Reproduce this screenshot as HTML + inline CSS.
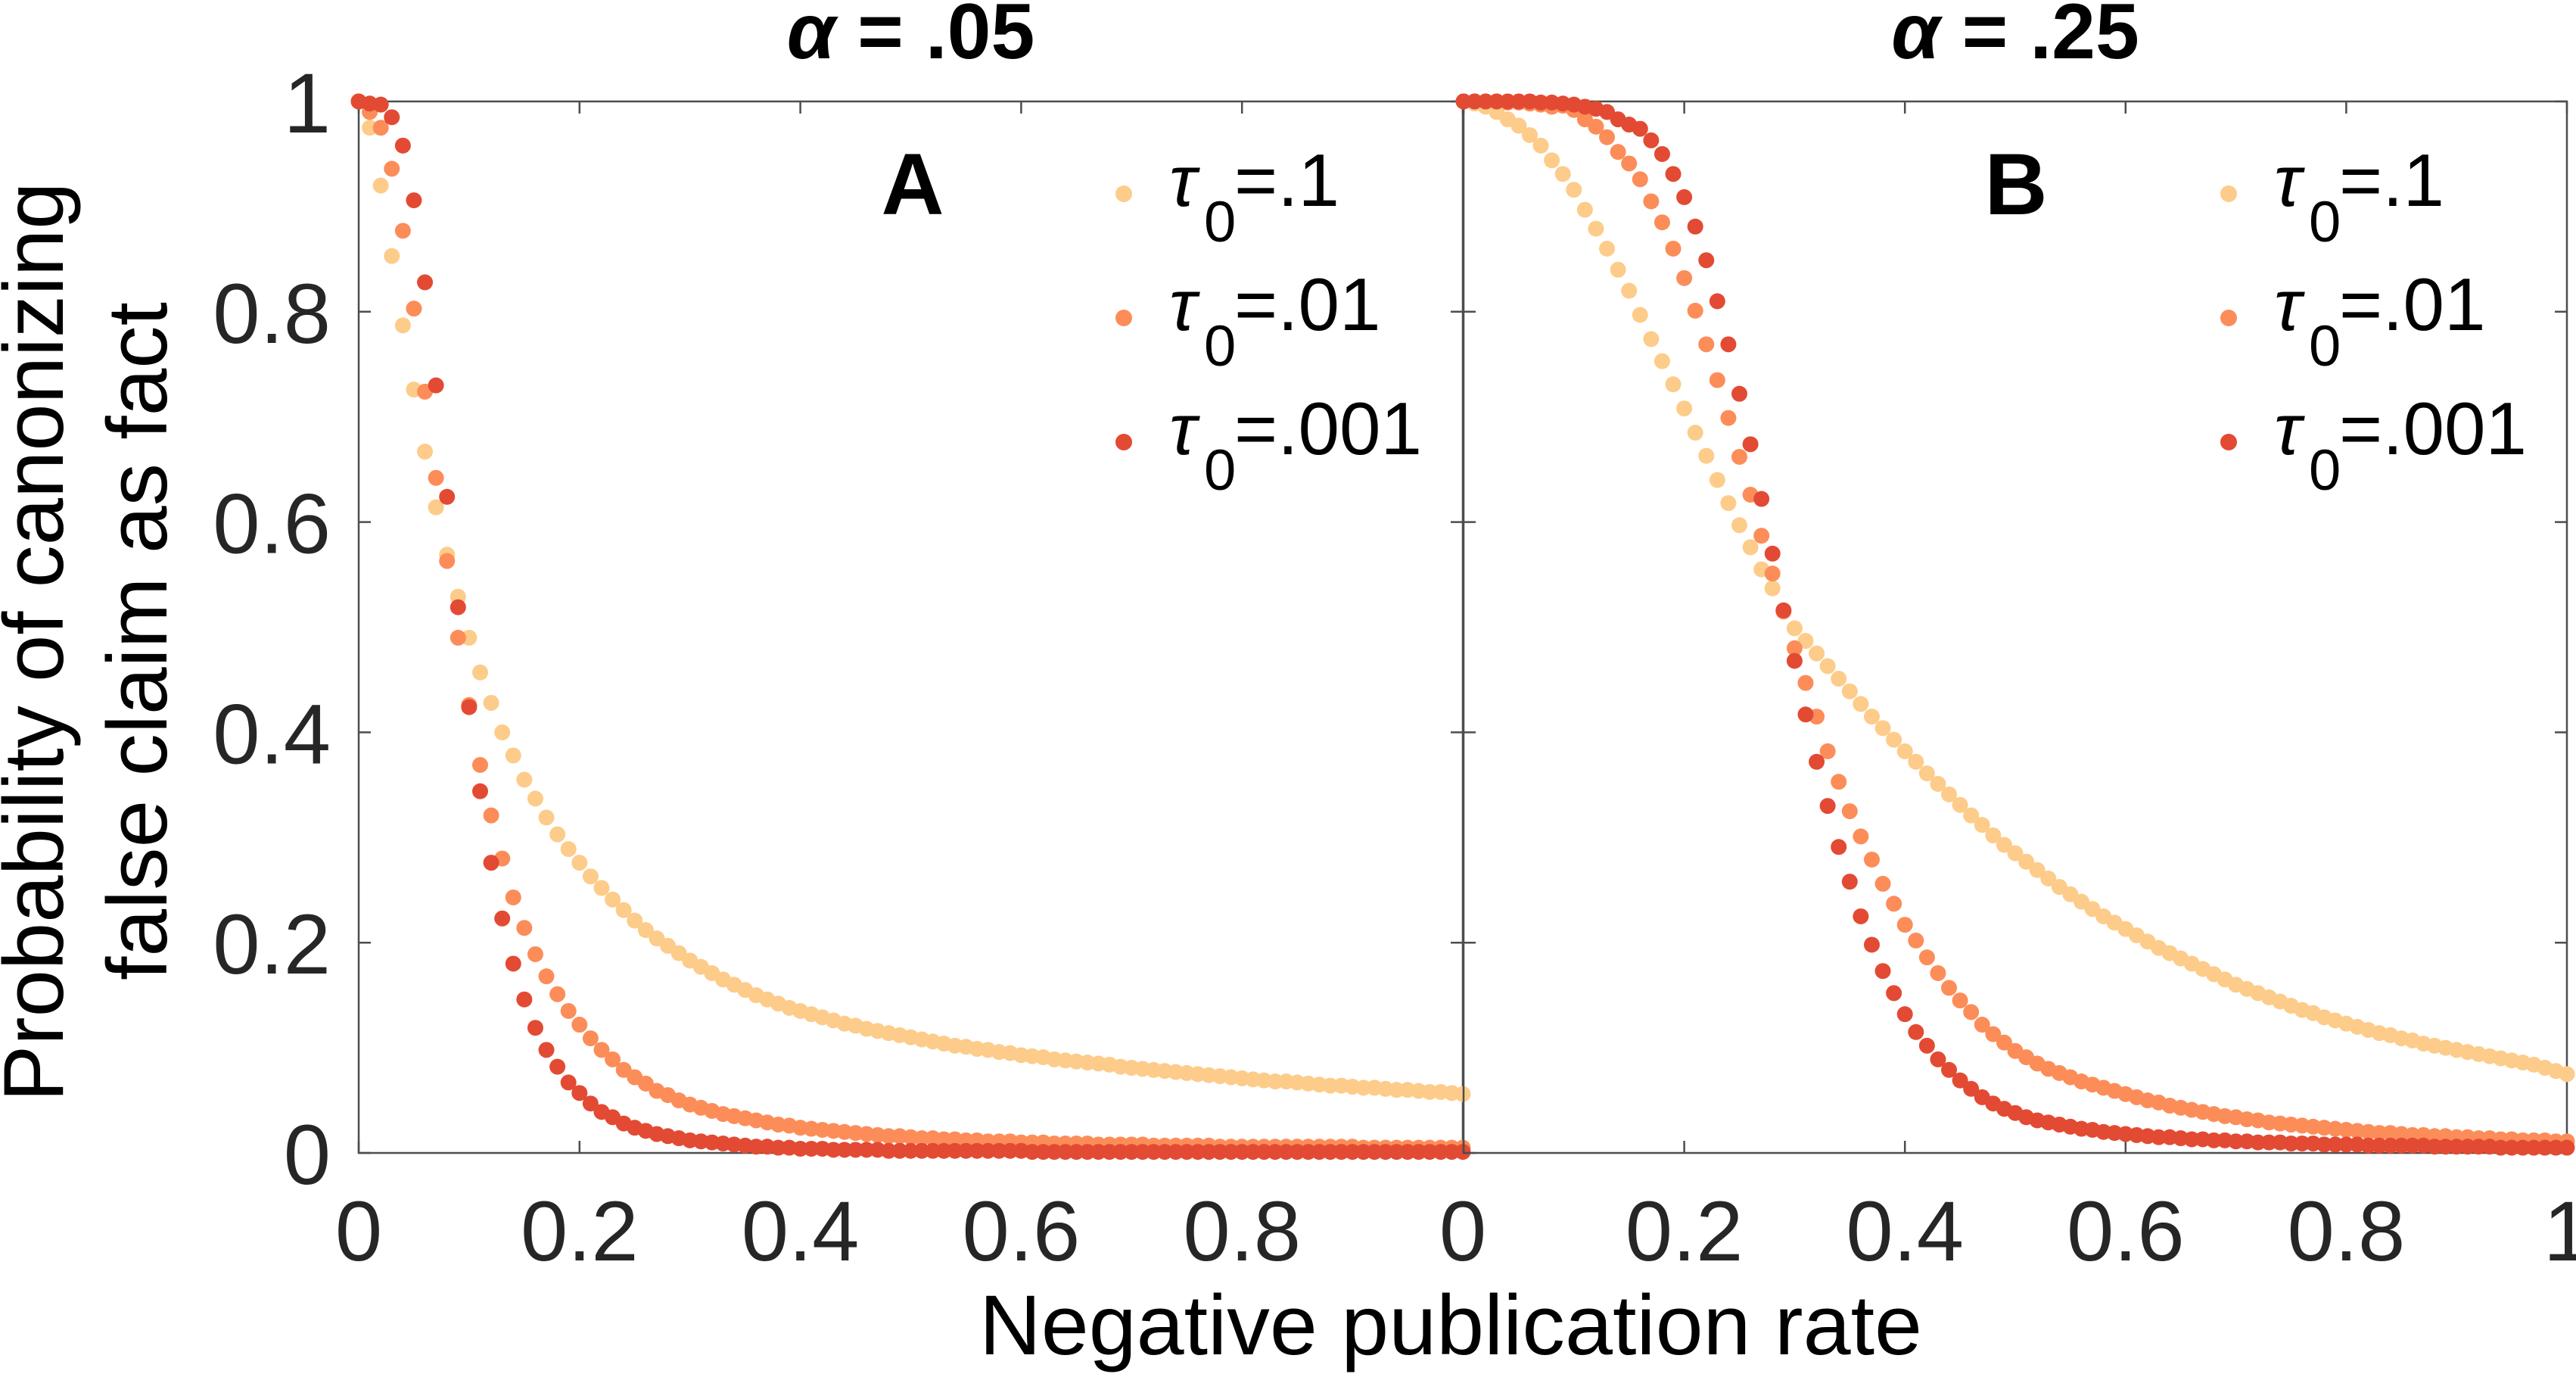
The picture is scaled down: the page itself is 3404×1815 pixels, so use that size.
<!DOCTYPE html>
<html><head><meta charset="utf-8"><style>
html,body{margin:0;padding:0;background:#fff;}
svg{display:block;}
text{font-family:"Liberation Sans",Arial,sans-serif;}
</style></head><body>
<svg id="chart" width="3404" height="1815" viewBox="0 0 3404 1815" xmlns="http://www.w3.org/2000/svg">
<rect width="3404" height="1815" fill="#fff"/>
<g id="layer"></g>
</svg>
<script>
const xTicks = [0, 0.2, 0.4, 0.6, 0.8, 1];
const xTickLabelsA = ["0", "0.2", "0.4", "0.6", "0.8", "0"];
const xTickLabelsB = ["", "0.2", "0.4", "0.6", "0.8", "1"];
const yTicks = [0, 0.2, 0.4, 0.6, 0.8, 1];
const yTickLabels = ["0", "0.2", "0.4", "0.6", "0.8", "1"];
const seriesNames = ["τ0=.1", "τ0=.01", "τ0=.001"];
const seriesLabels = [".1", ".01", ".001"];
const seriesColors = ["#fdcc8a", "#fc8d59", "#e34a33"];
const panelTitles = [".05", ".25"];
const panelLetters = ["A", "B"];

const aYellow = [1.0,0.975,0.920,0.853,0.787,0.726,0.667,0.614,0.569,0.529,0.490,0.457,0.428,0.400,0.378,0.355,0.337,0.319,0.303,0.289,0.276,0.263,0.252,0.241,0.231,0.221,0.212,0.204,0.197,0.190,0.183,0.177,0.171,0.165,0.160,0.155,0.150,0.146,0.142,0.138,0.135,0.132,0.129,0.126,0.123,0.121,0.118,0.116,0.114,0.112,0.110,0.108,0.106,0.104,0.102,0.101,0.099,0.098,0.096,0.095,0.093,0.092,0.091,0.089,0.088,0.087,0.086,0.085,0.084,0.082,0.081,0.080,0.079,0.078,0.077,0.076,0.075,0.074,0.073,0.072,0.071,0.070,0.069,0.068,0.068,0.067,0.066,0.065,0.064,0.064,0.063,0.062,0.062,0.061,0.060,0.060,0.059,0.058,0.058,0.057,0.056];
const aOrange = [1.0,0.99,0.975,0.936,0.877,0.803,0.724,0.642,0.563,0.490,0.426,0.369,0.321,0.280,0.243,0.214,0.189,0.168,0.151,0.135,0.122,0.109,0.098,0.089,0.079,0.072,0.066,0.059,0.055,0.050,0.046,0.043,0.040,0.037,0.035,0.033,0.031,0.029,0.027,0.026,0.024,0.023,0.022,0.021,0.020,0.019,0.018,0.017,0.016,0.016,0.015,0.014,0.014,0.013,0.013,0.012,0.012,0.011,0.011,0.011,0.010,0.010,0.010,0.009,0.009,0.009,0.009,0.008,0.008,0.008,0.008,0.008,0.007,0.007,0.007,0.007,0.007,0.007,0.006,0.006,0.006,0.006,0.006,0.006,0.006,0.006,0.006,0.006,0.006,0.006,0.006,0.005,0.005,0.005,0.005,0.005,0.005,0.005,0.005,0.005,0.005];
const aRed = [1.0,0.998,0.997,0.985,0.958,0.906,0.828,0.730,0.624,0.519,0.424,0.344,0.276,0.223,0.180,0.146,0.119,0.098,0.082,0.067,0.057,0.047,0.039,0.034,0.028,0.024,0.021,0.018,0.016,0.014,0.012,0.011,0.010,0.009,0.008,0.007,0.006,0.006,0.005,0.005,0.004,0.004,0.004,0.003,0.003,0.003,0.003,0.003,0.002,0.002,0.002,0.002,0.002,0.002,0.002,0.002,0.002,0.002,0.002,0.002,0.002,0.001,0.001,0.001,0.001,0.001,0.001,0.001,0.001,0.001,0.001,0.001,0.001,0.001,0.001,0.001,0.001,0.001,0.001,0.001,0.001,0.001,0.001,0.001,0.001,0.001,0.001,0.001,0.001,0.001,0.001,0.001,0.001,0.001,0.001,0.001,0.001,0.001,0.001,0.001,0.001];
const bYellow = [1.0,0.998,0.995,0.990,0.983,0.977,0.968,0.958,0.944,0.931,0.916,0.897,0.879,0.860,0.840,0.820,0.797,0.774,0.753,0.731,0.708,0.685,0.663,0.640,0.618,0.597,0.576,0.555,0.537,0.516,0.499,0.487,0.475,0.463,0.451,0.439,0.427,0.415,0.404,0.393,0.382,0.372,0.361,0.351,0.341,0.331,0.321,0.312,0.302,0.293,0.285,0.277,0.269,0.261,0.253,0.246,0.239,0.232,0.225,0.219,0.213,0.207,0.201,0.195,0.190,0.185,0.180,0.175,0.170,0.165,0.160,0.156,0.152,0.148,0.144,0.140,0.136,0.133,0.129,0.126,0.123,0.120,0.117,0.114,0.112,0.109,0.107,0.104,0.102,0.100,0.098,0.096,0.094,0.092,0.090,0.088,0.086,0.084,0.081,0.078,0.075];
const bOrange = [1.0,1.0,1.0,1.0,0.999,0.999,0.998,0.997,0.995,0.996,0.992,0.983,0.976,0.966,0.952,0.941,0.926,0.905,0.885,0.860,0.832,0.801,0.769,0.735,0.699,0.662,0.626,0.587,0.551,0.515,0.480,0.447,0.415,0.382,0.353,0.325,0.301,0.279,0.256,0.237,0.217,0.202,0.186,0.171,0.157,0.145,0.134,0.122,0.113,0.105,0.097,0.091,0.085,0.080,0.076,0.072,0.068,0.065,0.062,0.059,0.056,0.053,0.050,0.048,0.045,0.043,0.041,0.039,0.037,0.035,0.034,0.032,0.031,0.029,0.028,0.027,0.026,0.025,0.024,0.023,0.022,0.021,0.020,0.019,0.019,0.018,0.017,0.017,0.016,0.016,0.015,0.015,0.014,0.014,0.013,0.013,0.012,0.012,0.012,0.011,0.011];
const bRed = [1.0,1.0,1.0,1.0,1.0,1.0,1.0,0.999,0.999,0.998,0.997,0.995,0.993,0.990,0.983,0.978,0.974,0.963,0.950,0.931,0.909,0.881,0.849,0.810,0.769,0.722,0.674,0.622,0.570,0.516,0.468,0.417,0.372,0.330,0.291,0.258,0.225,0.198,0.173,0.152,0.132,0.115,0.102,0.089,0.079,0.069,0.061,0.053,0.047,0.042,0.038,0.034,0.031,0.029,0.027,0.025,0.023,0.022,0.020,0.019,0.018,0.017,0.016,0.015,0.015,0.014,0.013,0.013,0.012,0.012,0.011,0.011,0.010,0.010,0.010,0.009,0.009,0.009,0.008,0.008,0.008,0.008,0.007,0.007,0.007,0.007,0.007,0.007,0.006,0.006,0.006,0.006,0.006,0.006,0.005,0.005,0.005,0.005,0.005,0.005,0.005];

const NS = "http://www.w3.org/2000/svg";
const layer = document.getElementById("layer");
function mk(tag, attrs, parent) {
  const e = document.createElementNS(NS, tag);
  for (const k in attrs) e.setAttribute(k, attrs[k]);
  (parent || layer).appendChild(e);
  return e;
}
const TOP = 134, BOT = 1523;
const panels = [
  {x0: 474, x1: 1933, series: [aYellow, aOrange, aRed], xl: xTickLabelsA, legX: 1485, letterX: 1206},
  {x0: 1934, x1: 3392, series: [bYellow, bOrange, bRed], xl: xTickLabelsB, legX: 2945, letterX: 2664}
];
function yScale(v) { return BOT - v * (BOT - TOP); }

panels.forEach((p, pi) => {
  const xScale = v => p.x0 + v * (p.x1 - p.x0);
  const g = mk("g", {});
  
  

  const box = mk("rect", {x: p.x0, y: TOP, width: p.x1 - p.x0, height: BOT - TOP, fill: "none", stroke: "#4d4d4d", "stroke-width": 2.5}, g);
  
  

  xTicks.forEach((t, i) => {
    const x = xScale(t);
    const tk = mk("path", {d: `M${x},${BOT}v-16M${x},${TOP}v16`, stroke: "#4d4d4d", "stroke-width": 2.5}, g);
    
    
    if (p.xl[i] !== "") {
      const lb = mk("text", {x: x, y: 1665, "text-anchor": "middle", "font-size": 112, fill: "#262626"}, g);
      lb.textContent = p.xl[i];
      
      
    }
  });
  yTicks.forEach((t, i) => {
    const y = yScale(t);
    const tk = mk("path", {d: `M${p.x0},${y}h16M${p.x1},${y}h-16`, stroke: "#4d4d4d", "stroke-width": 2.5}, g);
    
    
    if (pi === 0) {
      const lb = mk("text", {x: 437, y: y + 41, "text-anchor": "end", "font-size": 112, fill: "#262626"}, g);
      lb.textContent = yTickLabels[i];
      
      
    }
  });

  p.series.forEach((arr, si) => {
    const sg = mk("g", {fill: seriesColors[si]}, g);
    
    
    arr.forEach((v, i) => {
      const c = mk("circle", {cx: xScale(i / (arr.length - 1)), cy: yScale(v), r: 10.5}, sg);
      
      
    });
  });

  const tt = mk("text", {x: (p.x0 + p.x1) / 2, y: 77, "text-anchor": "middle", "font-size": 104, "font-weight": "bold", fill: "#000"}, g);
  
  
  const al = mk("tspan", {"font-style": "italic"}, tt); al.textContent = "α";
  const rest = mk("tspan", {}, tt); rest.textContent = " = " + panelTitles[pi];

  const lt = mk("text", {x: p.letterX, y: 283, "text-anchor": "middle", "font-size": 115, "font-weight": "bold", fill: "#000"}, g);
  lt.textContent = panelLetters[pi];
  
  

  const lg = mk("g", {}, g);
  
  
  seriesLabels.forEach((s, si) => {
    const cy = 256 + si * 164;
    const e = mk("g", {}, lg);
    
    
    mk("circle", {cx: p.legX, cy: cy, r: 11, fill: seriesColors[si]}, e);
    const tau = mk("text", {x: p.legX + 60, y: cy + 16, "font-size": 96, "font-style": "italic", fill: "#000", "font-family": "'DejaVu Sans', sans-serif"}, e);
    tau.textContent = "τ";
    const sub = mk("text", {x: p.legX + 106, y: cy + 63, "font-size": 76, fill: "#000"}, e);
    sub.textContent = "0";
    const eq = mk("text", {x: p.legX + 146, y: cy + 16, "font-size": 98, fill: "#000"}, e);
    eq.textContent = "=" + s;
  });
});

const yl = mk("text", {"text-anchor": "middle", "font-size": 112, fill: "#000", transform: "translate(83,848) rotate(-90)", textLength: 1215, lengthAdjust: "spacingAndGlyphs"});
yl.textContent = "Probability of canonizing";


const yl2 = mk("text", {"text-anchor": "middle", "font-size": 112, fill: "#000", transform: "translate(220,847) rotate(-90)", textLength: 896, lengthAdjust: "spacingAndGlyphs"});
yl2.textContent = "false claim as fact";


const xl = mk("text", {x: 1917, y: 1789, "text-anchor": "middle", "font-size": 112, fill: "#000", textLength: 1246, lengthAdjust: "spacingAndGlyphs"});
xl.textContent = "Negative publication rate";


</script>
</body></html>
